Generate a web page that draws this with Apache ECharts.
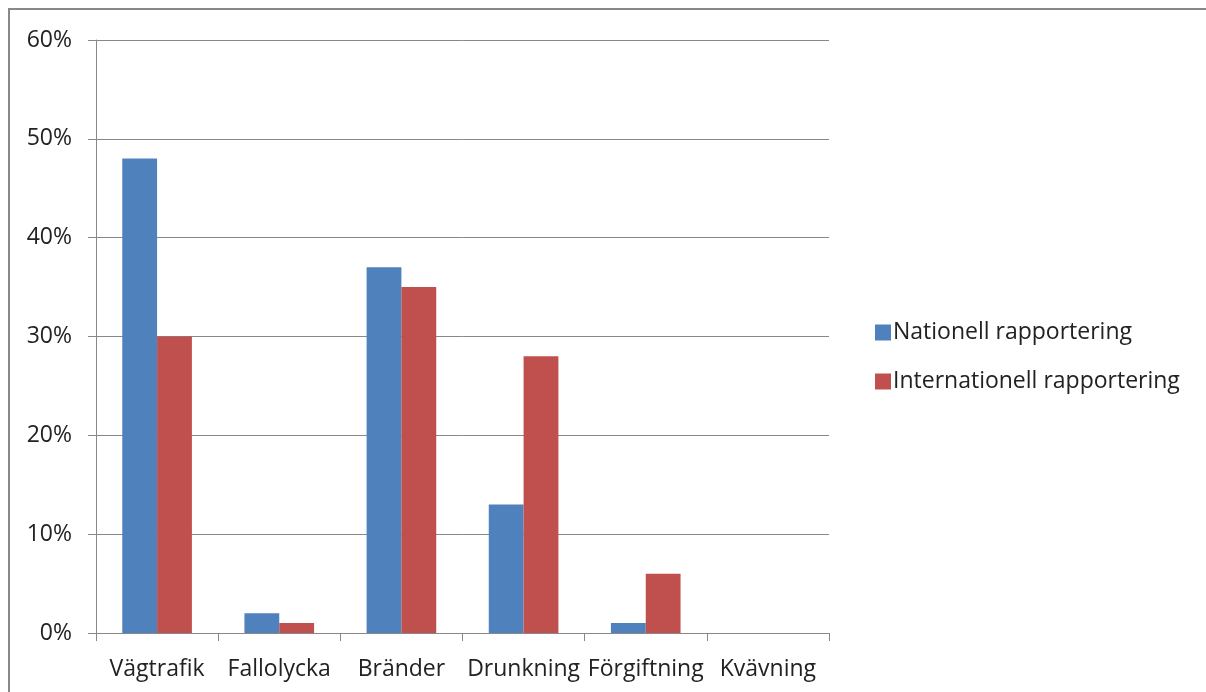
<!DOCTYPE html>
<html><head><meta charset="utf-8">
<script src="https://cdn.jsdelivr.net/npm/echarts@6/dist/echarts.min.js"></script>
<style>html,body{margin:0;padding:0;background:#fff}#c{width:1206px;height:692px}</style>
</head><body><div id="c"></div>
<script>
const categories = ['Vägtrafik','Fallolycka','Bränder','Drunkning','Förgiftning','Kvävning'];
const nationell = [48, 2, 37, 13, 1, 0];
const internationell = [30, 1, 35, 28, 6, 0];
const seriesNames = ['Nationell rapportering','Internationell rapportering'];
const font = '"Open Sans", sans-serif';
const chart = echarts.init(document.getElementById('c'), null, {renderer:'canvas'});
chart.setOption({
  animation:false,
  backgroundColor:'#fff',
  graphic:[{type:'rect',shape:{x:9,y:9,width:1400,height:900},style:{fill:'none',stroke:'#888',lineWidth:2},silent:true}],
  grid:{left:96,right:377,top:40,bottom:59},
  legend:{
    orient:'vertical',left:870,top:316,itemWidth:16,itemHeight:16,itemGap:26,icon:'rect',
    textStyle:{fontFamily:font,fontSize:23,lineHeight:20,color:'#222',padding:[0,0,0,-3]},
    data:seriesNames
  },
  xAxis:{
    type:'category',data:categories,
    axisLine:{lineStyle:{color:'#888',width:1}},
    axisTick:{show:true,length:8,lineStyle:{color:'#888'}},
    axisLabel:{fontFamily:font,fontSize:23,color:'#222',margin:25,interval:0}
  },
  yAxis:{
    type:'value',min:0,max:60,interval:10,
    axisLine:{show:true,lineStyle:{color:'#888'}},
    axisTick:{show:true,length:8,lineStyle:{color:'#888'}},
    splitLine:{lineStyle:{color:'#888',width:1}},
    axisLabel:{fontFamily:font,fontSize:23,color:'#222',margin:24,formatter:'{value}%'}
  },
  series:[
    {name:seriesNames[0],type:'bar',data:nationell,barGap:'0%',barCategoryGap:'43%',itemStyle:{color:'#4f81bd'}},
    {name:seriesNames[1],type:'bar',data:internationell,barGap:'0%',barCategoryGap:'43%',itemStyle:{color:'#c0504d'}}
  ]
});
</script></body></html>
